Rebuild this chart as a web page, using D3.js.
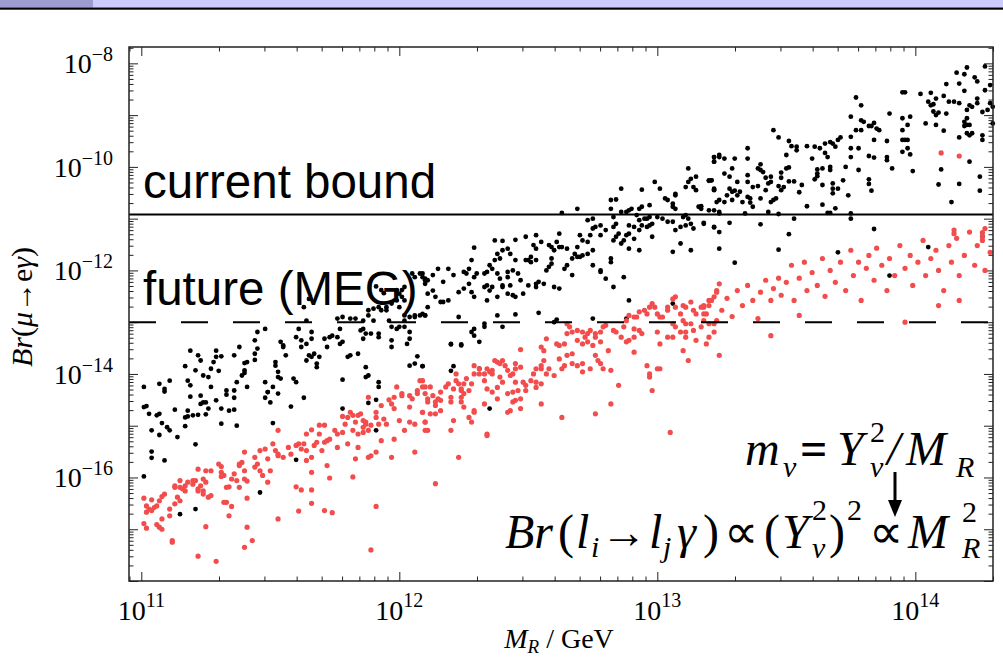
<!DOCTYPE html>
<html>
<head>
<meta charset="utf-8">
<script src="https://cdn.jsdelivr.net/npm/d3@7"></script>
<style>
body { margin: 0; background: #fff; }
svg  { display: block; }
</style>
</head>
<body>
<svg id="chart" width="1003" height="661"></svg>
<script>
// points are [ log10( M_R / GeV ), log10 Br( mu -> e gamma ) ]
var blackPts = [
	[11.09,-14.34],[11.19,-14.44],[11.23,-14.42],[11.24,-14.55],[11.25,-14.55],[11.23,-14.58],[11.26,-14.67],[11.29,-14.51],[11.33,-14.40],[11.36,-14.46],
	[11.36,-14.69],[11.34,-14.71],[11.31,-14.67],[11.48,-14.46],[11.49,-14.35],[11.50,-14.55],[11.53,-14.38],[11.63,-14.46],[11.58,-14.63],[11.01,-14.64],
	[11.02,-14.62],[11.03,-14.77],[11.07,-14.77],[11.06,-14.80],[11.08,-14.95],[11.10,-15.03],[11.11,-15.09],[11.04,-15.09],[11.07,-15.18],[11.14,-15.22],
	[11.13,-14.69],[11.17,-14.84],[11.18,-14.71],[11.18,-14.82],[11.20,-14.80],[11.22,-14.79],[11.25,-14.78],[11.17,-15.01],[11.21,-15.36],[11.31,-14.96],
	[11.37,-15.00],[11.51,-14.95],[11.04,-15.50],[11.04,-15.62],[11.09,-15.67],[11.01,-15.98],[11.15,-16.71],[11.21,-16.61],[11.46,-16.29],[11.60,-15.66],
	[11.78,-14.67],[11.88,-14.56],[11.91,-14.50],[11.91,-15.09],
	[11.01,-14.25],[11.07,-14.19],[11.09,-14.29],[11.11,-14.13],[11.17,-13.85],[11.19,-13.55],[11.18,-14.13],[11.19,-14.22],[11.21,-13.93],[11.22,-13.64],
	[11.23,-13.74],[11.24,-14.03],[11.26,-14.06],[11.27,-13.90],[11.27,-14.25],[11.28,-13.77],[11.29,-13.55],[11.29,-13.67],[11.30,-13.94],[11.31,-13.66],
	[11.33,-14.32],[11.36,-13.64],[11.36,-14.32],[11.37,-14.16],[11.38,-13.48],[11.39,-14.03],[11.40,-13.79],[11.40,-13.93],[11.41,-13.77],[11.40,-13.98],
	[11.44,-13.73],[11.44,-13.61],[11.45,-13.51],[11.44,-13.35],[11.45,-13.19],[11.48,-13.13],[11.41,-14.25],[11.48,-14.16],[11.49,-14.35],[11.51,-14.25],
	[11.52,-13.84],[11.53,-13.96],[11.53,-14.06],[11.54,-14.09],[11.52,-13.77],[11.54,-13.38],[11.55,-13.45],[11.55,-13.48],[11.56,-13.64],[11.59,-14.09],
	[11.60,-14.16],[11.60,-13.29],[11.61,-13.13],[11.62,-13.35],[11.62,-13.48],[11.64,-13.42],[11.66,-13.32],[11.66,-13.19],[11.64,-13.74],[11.65,-13.64],
	[11.66,-13.67],[11.67,-13.61],[11.68,-13.80],[11.69,-13.67],[11.68,-13.87],[11.71,-13.32],[11.72,-13.48],[11.73,-13.29],[11.74,-13.26],[11.76,-13.29],
	[11.77,-13.42],[11.78,-13.38],[11.77,-13.13],[11.76,-12.93],[11.78,-12.90],[11.81,-12.93],[11.83,-12.93],[11.86,-12.97],[11.88,-12.87],[11.88,-12.77],
	[11.90,-12.74],[11.92,-12.71],[11.90,-12.97],[11.85,-13.16],[11.87,-13.22],[11.89,-13.22],[11.92,-13.22],[11.92,-13.29],[11.86,-13.32],[11.86,-13.13],
	[11.80,-13.67],[11.81,-13.64],[11.84,-13.61],[11.87,-13.87],[11.88,-14.03],[11.87,-14.06],[11.78,-14.11],[11.92,-14.16],[11.92,-14.25],[11.97,-13.35],
	[11.97,-13.48],[12.03,-13.42],[12.04,-13.32],[12.04,-13.19],[12.02,-13.09],[12.02,-12.97],[12.02,-12.87],[12.04,-12.90],[12.06,-12.87],[12.06,-12.90],
	[12.10,-12.87],[12.08,-12.87],[11.97,-13.09],[11.99,-13.13],[12.00,-13.09],[11.96,-12.97],[11.95,-12.71],[11.97,-12.64],[11.99,-12.58],[12.00,-12.71],
	[11.95,-12.77],[11.93,-12.77],[12.04,-13.84],[12.06,-13.80],[12.09,-13.85],[12.07,-13.66],[11.63,-12.71],[11.64,-12.97],[11.65,-12.55],[11.91,-12.31],
	[11.93,-12.38],[11.94,-12.44],[11.99,-12.38],[12.00,-12.45],[12.01,-12.38],[12.02,-12.58],[12.02,-12.32],[12.01,-12.51],[12.05,-12.06],[12.06,-12.13],
	[12.08,-12.06],[12.09,-12.13],[12.10,-12.19],[12.10,-12.26],[12.11,-12.19],
	[12.09,-12.06],[12.10,-12.16],[12.13,-12.09],[12.15,-11.97],[12.19,-11.97],[12.17,-12.22],[12.21,-12.09],[12.25,-12.03],[12.26,-12.06],[12.27,-11.97],
	[12.29,-12.13],[12.30,-12.06],[12.28,-11.80],[12.29,-11.56],[12.33,-12.06],[12.34,-12.03],[12.35,-11.90],[12.36,-11.97],[12.37,-11.80],[12.38,-11.68],
	[12.39,-11.77],[12.40,-11.61],[12.37,-11.42],[12.40,-11.43],[12.42,-11.58],[12.43,-11.68],[12.45,-11.41],[12.38,-12.06],[12.39,-12.16],[12.42,-12.03],
	[12.42,-12.13],[12.44,-12.00],[12.45,-11.80],[12.46,-12.06],[12.13,-12.39],[12.11,-12.45],[12.14,-12.51],[12.16,-12.61],[12.17,-12.61],[12.19,-12.58],
	[12.11,-12.71],[12.23,-12.42],[12.25,-12.35],[12.27,-12.26],[12.28,-12.42],[12.29,-12.51],[12.33,-12.32],[12.34,-12.29],[12.35,-12.39],[12.36,-12.32],
	[12.34,-12.58],[12.38,-12.51],[12.40,-12.32],[12.40,-12.29],[12.43,-12.29],[12.42,-12.45],[12.44,-12.48],[12.45,-12.51],[12.48,-12.45],[12.47,-12.19],
	[12.49,-11.80],[12.49,-11.35],[12.50,-11.80],[12.51,-11.74],[12.51,-11.84],[12.53,-11.80],[12.52,-11.51],[12.53,-11.32],[12.53,-11.58],[12.55,-11.45],
	[12.53,-12.26],[12.54,-12.22],[12.50,-12.29],[12.53,-12.32],[12.56,-12.26],[12.57,-12.00],[12.58,-11.93],[12.59,-11.87],[12.59,-11.77],[12.58,-11.51],
	[12.59,-11.55],[12.60,-11.61],[12.61,-11.45],[12.62,-11.29],[12.62,-11.55],[12.63,-11.55],[12.60,-12.32],[12.62,-12.35],[12.65,-11.58],[12.65,-11.90],
	[12.64,-11.97],[12.67,-12.09],[12.67,-11.77],[12.68,-11.68],[12.69,-11.74],[12.70,-11.74],[12.71,-11.71],[12.73,-11.68],[12.75,-11.61],[12.69,-11.55],
	[12.70,-11.32],[12.71,-11.42],[12.73,-11.45],[12.74,-11.32],[12.75,-11.90],[12.75,-11.19],[12.76,-11.16],[12.73,-11.03],[12.75,-11.00],[12.78,-11.13],
	[12.78,-11.32],[12.80,-11.22],[12.83,-11.16],[12.84,-11.10],[12.84,-11.35],[12.83,-11.42],[12.85,-11.29],[12.86,-11.48],[12.87,-11.42],[12.89,-11.13],
	[12.91,-11.16],[12.91,-11.39],[12.93,-11.22],[12.94,-11.13],[12.96,-11.16],[12.97,-11.13],[12.98,-11.10],[12.98,-11.35],[12.89,-11.58],[12.93,-11.61],
	[12.88,-11.32],[12.89,-11.29],[12.93,-11.03],[12.95,-11.00],[12.96,-11.00],[12.97,-10.97],[13.00,-10.97],[13.02,-11.00],[13.04,-11.06],[13.06,-11.06],
	[13.07,-11.22],[13.09,-11.16],[13.11,-11.13],[13.10,-10.97],[13.11,-10.93],[13.12,-11.00],[13.13,-11.10],[13.14,-11.19],[13.18,-11.10],[13.22,-11.16],
	[13.13,-11.61],[13.09,-11.48],[13.06,-11.64],[13.24,-11.58],[12.82,-10.64],[12.84,-10.63],[12.82,-10.81],[12.83,-10.97],[12.86,-10.87],[12.88,-10.87],
	[12.89,-10.84],[12.90,-10.81],[12.92,-10.93],[12.93,-10.81],[12.94,-10.77],[12.97,-10.74],[12.69,-10.81],[12.63,-10.89],[12.86,-10.42],[12.94,-10.44],
	[12.99,-10.29],[13.01,-10.42],[13.03,-10.61],[13.04,-10.64],[13.06,-10.71],[13.06,-10.77],[13.07,-10.81],[13.07,-10.55],[13.07,-10.52],[13.11,-10.39],
	[13.12,-10.29],[13.13,-10.23],[13.14,-10.39],[13.15,-10.45],[13.12,-10.03],[13.15,-10.19],[13.20,-10.27],[13.21,-10.26],[13.22,-10.44],[13.23,-10.68],
	[13.22,-10.84],[13.24,-10.90],[13.17,-10.81],[13.16,-10.77],[13.22,-9.81],[13.22,-9.90],[13.24,-9.77],[12.75,-12.93],[12.89,-12.58],[13.06,-12.64],
	[12.83,-12.32],[12.78,-12.00],[12.78,-12.03],[12.80,-12.16],[12.82,-11.77],[12.82,-11.84],[12.87,-12.13],[12.23,-12.90],[12.38,-12.87],[12.45,-12.85],
	[12.54,-12.82],[12.61,-12.95],[12.60,-13.00],[12.40,-13.09],[12.29,-13.13],[12.28,-13.19],[12.33,-13.03],[12.33,-13.09],[12.29,-13.26],[12.31,-13.38],
	[12.20,-13.42],[12.24,-13.43],[12.09,-12.84],[12.10,-12.87],[12.88,-12.93],
	[12.20,-13.43],[12.24,-13.45],[12.09,-13.85],[12.20,-13.94],[12.21,-13.85],[12.31,-13.90],[12.35,-14.67],
	[14.20,-8.08],[14.16,-8.18],[14.19,-8.21],[14.23,-8.27],[14.24,-8.35],[14.27,-8.06],[14.29,-8.42],[14.27,-8.52],[14.12,-8.40],[14.17,-8.39],
	[14.19,-8.53],[14.02,-8.59],[14.06,-8.57],[13.96,-8.56],[13.95,-8.56],[14.08,-8.68],[14.11,-8.63],[14.13,-8.74],[14.15,-8.74],[14.05,-8.74],
	[14.06,-8.81],[14.07,-8.79],[14.12,-8.97],[14.07,-8.93],[14.08,-9.00],[14.09,-8.95],[14.04,-9.16],[14.08,-9.19],[14.11,-9.30],[14.17,-8.77],
	[14.20,-8.90],[14.21,-8.81],[14.22,-8.84],[14.24,-8.77],[14.24,-8.68],[14.29,-8.77],[14.28,-8.90],[14.30,-9.16],[14.30,-8.84],[14.26,-8.94],
	[14.20,-9.06],[14.19,-9.13],[14.17,-9.43],[14.20,-9.35],[14.21,-9.39],[14.22,-9.35],[14.26,-9.39],[14.26,-9.48],[14.20,-9.19],[14.21,-9.19],
	[14.19,-9.21],[14.21,-9.90],[14.25,-10.19],[14.25,-10.46],[14.17,-10.33],[14.14,-10.68],[14.10,-10.05],[14.09,-10.34],[13.90,-8.97],[13.95,-9.06],
	[13.98,-9.03],[13.97,-9.19],[13.95,-9.29],[13.95,-9.48],[13.96,-9.48],[13.97,-9.48],[13.97,-9.64],[13.95,-9.71],[13.98,-9.76],[13.99,-10.08],
	[13.89,-9.50],[13.89,-9.81],[13.91,-10.03],[13.89,-9.87],[13.77,-8.66],[13.79,-8.81],[13.79,-9.10],[13.80,-9.13],[13.79,-9.29],[13.77,-9.29],
	[13.82,-9.21],[13.83,-9.21],[13.84,-9.15],[13.85,-9.26],[13.86,-9.29],[13.84,-9.48],[13.75,-9.03],[13.75,-9.42],[13.75,-9.64],[13.78,-9.64],
	[13.82,-9.79],[13.84,-9.82],[13.78,-10.06],[13.82,-10.24],[13.82,-10.33],[13.83,-10.46],[13.75,-9.81],[13.75,-10.90],[13.74,-10.55],[13.72,-10.26],
	[13.73,-10.00],[13.71,-9.43],[13.70,-9.48],[13.68,-9.55],[13.69,-9.61],[13.67,-9.52],[13.65,-9.55],[13.65,-9.73],[13.63,-9.64],[13.61,-9.61],
	[13.60,-9.84],[13.58,-9.60],[13.58,-10.76],[13.62,-10.05],[13.62,-10.18],[13.64,-10.03],[13.66,-9.81],[13.67,-10.00],[13.67,-10.06],[13.68,-10.32],
	[13.68,-10.42],[13.70,-10.42],[13.68,-10.51],[13.69,-10.80],[13.64,-10.35],[13.61,-10.24],[13.62,-10.13],[13.64,-10.73],[13.66,-10.89],[13.67,-10.89],
	[13.54,-9.61],[13.54,-9.68],[13.52,-9.60],[13.51,-9.50],[13.50,-9.77],[13.47,-9.43],[13.45,-9.29],[13.48,-10.11],[13.48,-10.21],[13.47,-10.37],
	[13.49,-10.39],[13.48,-10.45],[13.51,-10.01],[13.50,-10.03],[13.51,-10.28],[13.53,-10.28],[13.55,-10.49],[13.56,-10.35],[13.44,-10.19],[13.44,-10.29],
	[13.42,-10.21],[13.40,-9.95],[13.40,-10.06],[13.41,-10.10],[13.39,-10.03],[13.39,-10.37],[13.37,-10.39],[13.36,-10.61],[13.36,-10.69],[13.35,-10.58],
	[13.37,-10.77],[13.40,-10.61],[13.42,-10.45],[13.44,-10.68],[13.45,-10.64],[13.46,-10.61],[13.43,-10.32],[13.43,-10.87],[13.47,-10.91],[13.35,-9.84],
	[13.35,-9.64],[13.35,-10.16],[13.35,-10.29],[13.32,-10.48],[13.31,-10.55],[13.30,-10.46],[13.29,-10.48],[13.28,-10.42],[13.27,-10.55],[13.29,-10.03],
	[13.28,-10.19],[13.26,-10.13],[13.26,-10.68],[13.24,-10.64],[13.22,-9.81],[13.22,-9.90],[13.24,-9.81],[13.26,-9.84],[13.30,-9.84],[13.22,-10.45],
	[13.20,-10.26],[13.21,-10.26],[13.22,-10.42],[13.31,-10.29],[13.33,-10.68],[13.34,-10.90],[13.29,-10.64],[13.20,-10.84],[13.24,-10.87],[13.17,-10.76],
	[13.18,-11.08],[13.22,-11.17],[13.24,-11.26],[13.28,-11.08],[13.40,-11.11],[13.51,-11.30],[13.53,-11.00],[13.75,-11.00],[13.84,-11.20],[14.26,-11.34],
	[13.30,-11.85],[13.47,-11.60],[13.70,-11.65],[13.90,-12.10],[14.05,-11.55]
];
var redPts = [
	[11.01,-16.40],[11.04,-16.43],[11.02,-16.55],[11.03,-16.61],[11.05,-16.58],[11.02,-16.67],[11.04,-16.64],[11.06,-16.55],[11.07,-16.45],[11.08,-16.37],
	[11.09,-16.32],[11.01,-16.89],[11.02,-16.98],[11.06,-16.91],[11.07,-16.96],[11.08,-17.00],[11.08,-16.80],[11.11,-16.74],[11.11,-16.61],[11.12,-17.22],
	[11.12,-17.25],[11.13,-16.19],[11.13,-16.16],[11.15,-16.06],[11.15,-16.19],[11.14,-16.38],[11.15,-16.45],[11.13,-16.51],[11.16,-16.22],[11.17,-16.26],
	[11.17,-16.16],[11.18,-16.09],[11.20,-16.06],[11.20,-16.13],[11.21,-16.06],[11.22,-16.22],[11.22,-16.26],[11.23,-16.16],[11.24,-16.32],[11.24,-16.26],
	[11.25,-16.09],[11.24,-16.03],[11.22,-15.84],[11.25,-15.87],[11.27,-16.35],[11.26,-16.38],[11.27,-15.87],[11.30,-15.74],[11.31,-15.79],[11.31,-15.90],
	[11.32,-15.96],[11.31,-15.98],[11.33,-16.19],[11.34,-16.18],[11.32,-16.48],[11.33,-16.48],[11.34,-16.74],[11.35,-16.56],[11.35,-16.03],[11.36,-15.93],
	[11.37,-16.06],[11.38,-15.77],[11.38,-15.74],[11.39,-15.71],[11.38,-16.19],[11.40,-15.87],[11.40,-16.03],[11.41,-16.07],[11.40,-15.51],[11.41,-16.40],
	[11.41,-16.96],[11.40,-17.35],[11.43,-17.22],[11.44,-15.61],[11.44,-15.80],[11.45,-15.74],[11.46,-15.48],[11.46,-15.87],[11.47,-15.96],[11.48,-15.45],
	[11.49,-15.64],[11.49,-16.09],[11.50,-15.87],[11.51,-15.35],[11.52,-15.48],[11.53,-15.58],[11.53,-15.55],[11.55,-15.61],[11.53,-16.80],[11.53,-15.09],
	[11.57,-15.42],[11.58,-15.55],[11.60,-15.38],[11.61,-15.35],[11.62,-15.45],[11.63,-15.35],[11.64,-15.16],[11.64,-15.67],[11.64,-15.48],[11.66,-15.90],
	[11.66,-15.61],[11.67,-15.38],[11.66,-15.08],[11.68,-15.32],[11.69,-14.99],[11.69,-15.16],[11.70,-15.48],[11.71,-15.32],[11.71,-14.99],[11.72,-15.29],
	[11.73,-15.26],[11.72,-15.77],[11.73,-16.01],[11.60,-16.18],[11.62,-16.24],[11.66,-16.24],[11.66,-16.50],[11.61,-16.65],[11.71,-16.64],[11.74,-16.68],
	[11.75,-15.09],[11.76,-15.16],[11.76,-15.42],[11.78,-14.82],[11.78,-15.13],[11.79,-14.97],[11.80,-14.84],[11.81,-14.74],[11.82,-14.80],[11.82,-15.09],
	[11.83,-14.93],[11.84,-15.16],[11.84,-14.80],[11.85,-14.77],[11.86,-14.90],[11.86,-15.03],[11.87,-14.97],[11.87,-14.93],[11.88,-15.09],[11.89,-14.99],
	[11.80,-15.35],[11.82,-15.99],[11.83,-15.64],[11.84,-15.42],[11.86,-15.13],[11.88,-15.61],[11.89,-15.58],[11.91,-15.51],[11.93,-15.29],[11.91,-14.84],
	[11.91,-14.74],[11.92,-14.97],[11.93,-14.61],[11.94,-14.87],[11.95,-14.97],[11.97,-14.58],[11.98,-14.45],[11.98,-14.67],[12.00,-14.90],[12.01,-14.42],
	[12.02,-15.09],[12.04,-14.93],[12.04,-14.64],[12.05,-14.48],[12.06,-15.51],[12.06,-14.97],[12.07,-14.38],[12.09,-14.74],[12.10,-14.93],[12.10,-15.09],
	[11.98,-15.26],[11.97,-15.61],[11.91,-16.56],[11.89,-17.40],[11.25,-16.95],[11.22,-17.52],[11.29,-17.62],
	[11.88,-14.45],[11.99,-14.25],[12.01,-14.38],[12.04,-14.42],[12.07,-14.32],[12.08,-14.13],[12.10,-14.25],[11.96,-14.50],
	[13.24,-12.26],[13.23,-12.39],[13.22,-12.51],[13.20,-12.58],[13.20,-12.68],[13.18,-12.71],[13.18,-12.84],[13.19,-12.84],[13.17,-12.71],[13.15,-12.84],
	[13.14,-12.77],[13.13,-12.61],[13.11,-12.71],[13.10,-12.68],[13.09,-12.84],[13.07,-12.71],[13.07,-12.51],[13.06,-12.55],[13.04,-12.71],[13.04,-12.77],
	[13.02,-12.90],[13.01,-12.90],[13.00,-12.84],[12.99,-12.71],[12.98,-12.64],[12.97,-12.71],[12.96,-12.84],[12.95,-12.77],[12.93,-12.80],[12.92,-12.90],
	[12.91,-12.90],[12.89,-12.87],[12.88,-12.97],[12.87,-13.09],[12.91,-13.13],[12.93,-13.16],[12.94,-13.22],[12.91,-13.29],[12.89,-13.35],[12.88,-13.38],
	[12.86,-13.29],[12.84,-13.19],[12.83,-13.16],[12.80,-13.06],[12.79,-13.09],[12.78,-13.19],[12.76,-13.29],[12.76,-13.22],[12.74,-13.16],[12.73,-13.22],
	[12.72,-13.29],[12.71,-13.19],[12.69,-13.16],[12.67,-13.19],[12.66,-13.09],[12.65,-13.22],[12.65,-13.03],[12.69,-13.35],[12.71,-13.42],[12.73,-13.38],
	[12.75,-13.45],[12.78,-13.38],[12.64,-13.42],[12.62,-13.45],[12.61,-13.42],[12.57,-13.32],[12.55,-13.48],[12.47,-13.53],[13.11,-13.03],[13.13,-13.03],
	[13.10,-12.97],[13.06,-13.03],[13.07,-13.09],[13.09,-13.19],[13.11,-13.19],[13.14,-13.16],[13.17,-13.09],[13.18,-12.97],[13.20,-13.03],[13.22,-13.03],
	[13.23,-12.97],[13.22,-13.19],[13.20,-13.29],[13.19,-13.42],[13.15,-13.35],[13.11,-13.29],[13.06,-13.29],[13.01,-13.42],[13.00,-13.19],[13.04,-13.29],
	[12.09,-14.13],[12.09,-14.25],[12.10,-14.38],[12.11,-14.54],[12.11,-14.48],[12.12,-14.25],[12.13,-14.42],[12.14,-14.54],[12.14,-14.61],[12.15,-14.48],
	[12.16,-14.35],[12.16,-14.51],[12.18,-14.25],[12.19,-14.19],[12.20,-14.54],[12.20,-14.45],[12.21,-14.29],[12.22,-14.13],[12.22,-14.00],[12.23,-14.19],
	[12.24,-14.29],[12.24,-14.32],[12.25,-14.38],[12.25,-14.19],[12.26,-14.09],[12.27,-14.32],[12.28,-14.19],[12.29,-13.84],[12.29,-14.00],[12.31,-13.90],
	[12.31,-14.00],[12.33,-14.13],[12.33,-14.00],[12.34,-13.90],[12.35,-13.96],[12.36,-14.00],[12.36,-13.93],[12.37,-13.74],[12.38,-13.77],[12.39,-13.80],
	[12.40,-13.74],[12.41,-13.84],[12.42,-13.93],[12.43,-14.03],[12.44,-14.00],[12.45,-13.90],[12.45,-13.80],[12.47,-13.87],[12.45,-14.16],[12.46,-14.32],
	[12.47,-14.48],[12.49,-14.32],[12.49,-14.22],[12.48,-14.16],[12.44,-14.35],[12.42,-14.38],[12.43,-14.71],[12.42,-14.74],[12.47,-14.67],[12.44,-14.54],
	[12.45,-14.51],[12.52,-14.00],[12.53,-13.90],[12.55,-13.84],[12.55,-13.90],[12.56,-13.74],[12.56,-13.55],[12.57,-14.00],[12.58,-13.90],[12.60,-14.03],
	[12.62,-13.71],[12.63,-13.90],[12.64,-13.84],[12.65,-13.64],[12.67,-13.61],[12.67,-13.80],[12.69,-13.84],[12.71,-13.80],[12.71,-13.96],[12.74,-13.90],
	[12.76,-13.64],[12.77,-13.74],[12.78,-13.80],[12.79,-13.90],[12.81,-13.55],[12.82,-13.93],[12.85,-14.22],[12.91,-13.58],[12.96,-13.84],[12.97,-14.00],
	[12.97,-14.06],[12.98,-14.32],[13.00,-13.90],[13.01,-13.90],[13.10,-13.55],[13.12,-13.74],[13.24,-13.64],[12.53,-14.26],[12.53,-14.16],[12.55,-14.19],
	[12.55,-14.58],[12.76,-14.77],[12.82,-14.58],[12.63,-14.84],[13.05,-15.13],[12.34,-14.29],[12.33,-14.58],[12.29,-14.74],[12.28,-14.93],[12.27,-14.84],
	[12.29,-14.71],[12.25,-14.64],[12.21,-14.90],[12.20,-15.09],[12.14,-14.77],[12.12,-14.77],[12.11,-15.09],[12.10,-14.93],[12.34,-15.16],[12.34,-15.19],
	[12.23,-15.61],[12.14,-16.12],[12.39,-14.06],[12.38,-14.48],[12.38,-14.26],[12.40,-14.16],[12.51,-14.13],[12.36,-14.35],[12.24,-14.54],[12.09,-14.74],
	[12.16,-14.71],[12.24,-14.45],
	[14.10,-9.73],[14.17,-9.79],[14.15,-11.22],[14.15,-11.29],[14.26,-11.27],[14.26,-11.35],
	[13.18,-12.68],[13.21,-12.58],[13.23,-12.42],[13.25,-12.77],[13.27,-12.54],[13.29,-12.89],[13.31,-12.39],[13.33,-12.68],[13.35,-12.29],[13.37,-12.58],
	[13.39,-12.93],[13.40,-12.42],[13.42,-12.19],[13.44,-12.58],[13.45,-12.35],[13.47,-12.15],[13.48,-12.48],[13.50,-12.23],[13.52,-11.90],[13.53,-12.58],
	[13.55,-12.15],[13.57,-11.84],[13.58,-12.39],[13.60,-12.04],[13.62,-12.29],[13.64,-11.77],[13.65,-12.50],[13.67,-12.00],[13.69,-12.23],[13.71,-11.84],
	[13.73,-12.39],[13.75,-11.61],[13.76,-12.10],[13.78,-11.84],[13.79,-12.58],[13.81,-11.96],[13.82,-11.71],[13.84,-12.19],[13.85,-11.57],[13.87,-11.90],
	[13.89,-12.39],[13.90,-11.77],[13.92,-12.10],[13.94,-11.52],[13.96,-11.96],[13.98,-11.71],[13.99,-12.29],[14.01,-11.84],[14.03,-11.42],[14.04,-12.10],
	[14.06,-11.77],[14.08,-11.61],[14.09,-12.00],[14.11,-12.39],[14.13,-11.52],[14.14,-11.84],[14.16,-11.38],[14.17,-12.10],[14.19,-11.71],[14.21,-11.26],
	[14.23,-11.90],[14.24,-11.52],[14.26,-11.42],[14.27,-11.19],[14.29,-11.65],[14.17,-12.58],[13.96,-13.00],[13.44,-13.26],[13.55,-12.87],[14.09,-12.68],
	[14.27,-12.00]
];
var xDecades     = [ 11, 12, 13, 14 ];
var yDecades     = [ -16, -14, -12, -10, -8 ];
var currentBound = 1.2e-11; // MEG 2011
var futureBound  = 1e-13;   // MEG goal

var serif = '"Liberation Serif", "Times New Roman", serif';
var sans  = '"Liberation Sans", Arial, sans-serif';
var box   = { l: 129, r: 993, t: 47, b: 581 };
var svg   = d3.select( '#chart' );

// slide header strip
svg.append( 'rect' ).attr( 'x', 0 ).attr( 'y', 0 ).attr( 'width', 1003 ).attr( 'height', 7.5 ).attr( 'fill', '#ccccff' );
svg.append( 'rect' ).attr( 'x', 0 ).attr( 'y', 0 ).attr( 'width', 93 ).attr( 'height', 7.5 ).attr( 'fill', '#9c9cd0' );
svg.append( 'rect' ).attr( 'x', 0 ).attr( 'y', 7.5 ).attr( 'width', 1003 ).attr( 'height', 2.2 ).attr( 'fill', '#000' );

var x = d3.scaleLog().domain( [ 8.96e10, 2.0e14 ] ).range( [ box.l, box.r ] );
var y = d3.scaleLog().domain( [ 1e-18, 2.07e-8 ] ).range( [ box.b, box.t ] );

function logTicks( scale, major ) {
	var d = scale.domain(), out = [];
	for ( var e = Math.floor( Math.log10( d[ 0 ] ) ); e <= Math.ceil( Math.log10( d[ 1 ] ) ); e++ ) {
		for ( var k = 1; k < 10; k++ ) {
			var v = k * Math.pow( 10, e );
			if ( v < d[ 0 ] || v > d[ 1 ] ) continue;
			if ( ( k === 1 ) === major ) out.push( v );
		}
	}
	return out;
}
function drawTicks( axis, tx, ty, scale ) {
	[ [ true, 9 ], [ false, 4.5 ] ].forEach( function( m ) {
		svg.append( 'g' )
			.attr( 'transform', 'translate('+ tx +','+ ty +')' )
			.call( axis( scale ).tickValues( logTicks( scale, m[ 0 ] ) ).tickSizeInner( -m[ 1 ] ).tickSizeOuter( 0 ).tickFormat( '' ) )
			.call( g => g.select( '.domain' ).remove() )
			.selectAll( 'line' ).attr( 'stroke', '#222' ).attr( 'stroke-width', 1 );
	} );
}
drawTicks( d3.axisBottom, 0, box.b, x );
drawTicks( d3.axisTop, 0, box.t, x );
drawTicks( d3.axisLeft, box.l, 0, y );
drawTicks( d3.axisRight, box.r, 0, y );

// scatter
var pts = svg.append( 'g' );
pts.selectAll( 'circle.blk' ).data( blackPts ).join( 'circle' )
	.attr( 'class', 'blk' )
	.attr( 'cx', d => x( Math.pow( 10, d[ 0 ] ) ) )
	.attr( 'cy', d => y( Math.pow( 10, d[ 1 ] ) ) )
	.attr( 'r', 2.4 )
	.attr( 'fill', '#000' );
pts.selectAll( 'circle.red' ).data( redPts ).join( 'circle' )
	.attr( 'class', 'red' )
	.attr( 'cx', d => x( Math.pow( 10, d[ 0 ] ) ) )
	.attr( 'cy', d => y( Math.pow( 10, d[ 1 ] ) ) )
	.attr( 'r', 2.6 )
	.attr( 'fill', '#f24c4c' );

// bounds
svg.append( 'line' )
	.attr( 'x1', box.l ).attr( 'x2', box.r )
	.attr( 'y1', y( currentBound ) ).attr( 'y2', y( currentBound ) )
	.attr( 'stroke', '#000' ).attr( 'stroke-width', 2 );
svg.append( 'line' )
	.attr( 'x1', box.l ).attr( 'x2', box.r )
	.attr( 'y1', y( futureBound ) ).attr( 'y2', y( futureBound ) )
	.attr( 'stroke', '#000' ).attr( 'stroke-width', 2 )
	.attr( 'stroke-dasharray', '27,25' );

// frame
svg.append( 'rect' )
	.attr( 'x', box.l ).attr( 'y', box.t )
	.attr( 'width', box.r - box.l ).attr( 'height', box.b - box.t )
	.attr( 'fill', 'none' ).attr( 'stroke', '#222' ).attr( 'stroke-width', 1.5 );

// tick labels
var xl = svg.append( 'g' ).selectAll( 'text' ).data( xDecades ).join( 'text' )
	.attr( 'x', d => x( Math.pow( 10, d ) ) )
	.attr( 'y', 620 )
	.attr( 'text-anchor', 'middle' )
	.attr( 'font-family', serif )
	.attr( 'font-size', 28 );
xl.append( 'tspan' ).text( '10' );
xl.append( 'tspan' ).attr( 'dy', -13 ).attr( 'font-size', 20 ).text( d => d );

var yl = svg.append( 'g' ).selectAll( 'text' ).data( yDecades ).join( 'text' )
	.attr( 'x', 113 )
	.attr( 'y', d => y( Math.pow( 10, d ) ) + 10 )
	.attr( 'text-anchor', 'end' )
	.attr( 'font-family', serif )
	.attr( 'font-size', 28 );
yl.append( 'tspan' ).text( '10' );
yl.append( 'tspan' ).attr( 'dy', -12 ).attr( 'font-size', 20 ).text( d => '\u2212' + ( -d ) );

// axis titles
var xt = svg.append( 'text' )
	.attr( 'x', 559 ).attr( 'y', 648 )
	.attr( 'text-anchor', 'middle' )
	.attr( 'font-family', serif ).attr( 'font-size', 28 );
xt.append( 'tspan' ).attr( 'font-style', 'italic' ).text( 'M' );
xt.append( 'tspan' ).attr( 'font-style', 'italic' ).attr( 'font-size', 19 ).attr( 'dy', 5 ).text( 'R' );
xt.append( 'tspan' ).attr( 'dy', -5 ).text( ' / GeV' );

var yt = svg.append( 'text' )
	.attr( 'transform', 'translate(32,307) rotate(-90)' )
	.attr( 'text-anchor', 'middle' )
	.attr( 'font-family', serif ).attr( 'font-size', 30 );
yt.append( 'tspan' ).attr( 'font-style', 'italic' ).text( 'Br' );
yt.append( 'tspan' ).text( '(' );
yt.append( 'tspan' ).attr( 'font-style', 'italic' ).text( '\u03bc' );
yt.append( 'tspan' ).text( '\u2192e' );
yt.append( 'tspan' ).attr( 'font-style', 'italic' ).text( '\u03b3' );
yt.append( 'tspan' ).text( ')' );

// annotations
svg.append( 'text' ).attr( 'x', 143 ).attr( 'y', 198 )
	.attr( 'font-family', sans ).attr( 'font-size', 47.5 ).text( 'current bound' );
svg.append( 'text' ).attr( 'x', 143 ).attr( 'y', 305 )
	.attr( 'font-family', sans ).attr( 'font-size', 47.5 ).text( 'future (MEG)' );

function piece( px, py, str, size, style, weight ) {
	svg.append( 'text' )
		.attr( 'x', px ).attr( 'y', py )
		.attr( 'font-family', serif )
		.attr( 'font-size', size )
		.attr( 'font-style', style || 'normal' )
		.attr( 'font-weight', weight || 'normal' )
		.text( str );
}
// m_nu = Y_nu^2 / M_R
piece( 745, 465, 'm', 48, 'italic' );
piece( 783, 477, '\u03bd', 30, 'italic' );
piece( 800, 465, '=', 48, 'normal', 'bold' );
piece( 837, 465, 'Y', 48, 'italic' );
piece( 870, 442, '2', 30 );
piece( 870, 477, '\u03bd', 30, 'italic' );
piece( 887, 465, '/', 48, 'italic' );
piece( 906, 465, 'M', 48, 'italic' );
piece( 956, 477, 'R', 30, 'italic' );
// Br(l_i -> l_j gamma) ~ (Y^2)^2 ~ M_R^2
piece( 505, 548, 'Br', 48, 'italic' );
piece( 558, 548, '(', 48 );
piece( 576, 548, 'l', 48, 'italic' );
piece( 591, 557, 'i', 30, 'italic' );
piece( 601, 548, '\u2192', 46 );
piece( 649, 548, 'l', 48, 'italic' );
piece( 663, 557, 'j', 30, 'italic' );
piece( 677, 548, '\u03b3', 48, 'italic' );
piece( 703, 548, ')', 48 );
piece( 724, 548, '\u221d', 48 );
piece( 764, 548, '(', 48 );
piece( 782, 548, 'Y', 48, 'italic' );
piece( 812, 520, '2', 30 );
piece( 812, 558, '\u03bd', 30, 'italic' );
piece( 829, 548, ')', 48 );
piece( 847, 520, '2', 30 );
piece( 869, 548, '\u221d', 48 );
piece( 908, 548, 'M', 48, 'italic' );
piece( 962, 522, '2', 30 );
piece( 962, 558, 'R', 30, 'italic' );

// arrow from the first relation down to the second
svg.append( 'line' ).attr( 'x1', 895 ).attr( 'x2', 895 ).attr( 'y1', 472 ).attr( 'y2', 502 )
	.attr( 'stroke', '#000' ).attr( 'stroke-width', 3 );
svg.append( 'path' ).attr( 'd', 'M888,500 L902,500 L895,517 Z' ).attr( 'fill', '#000' );
</script>
</body>
</html>
